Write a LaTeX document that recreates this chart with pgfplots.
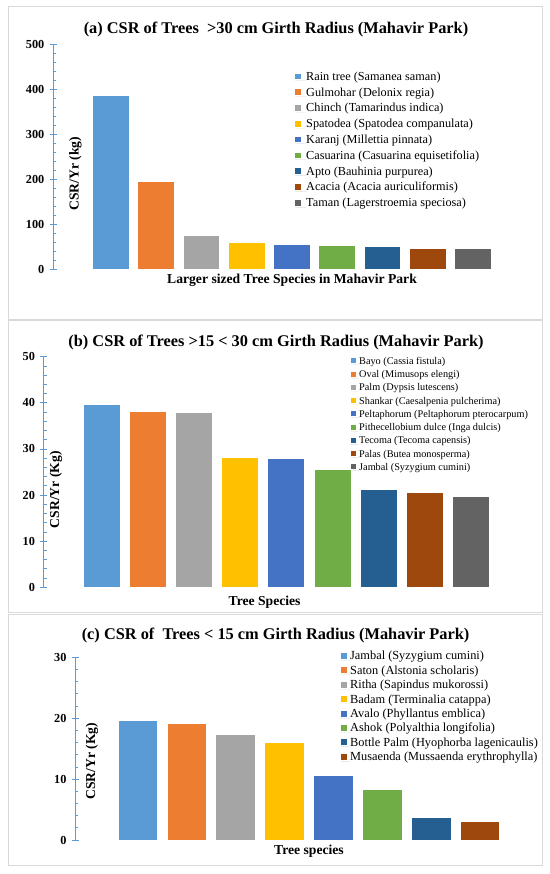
\documentclass[border=0pt]{standalone}
\usepackage{fontspec}
\setmainfont{Liberation Serif}
\usepackage{pgfplots}
\pgfplotsset{compat=1.18}

\definecolor{c1}{HTML}{5B9BD5}
\definecolor{c2}{HTML}{ED7D31}
\definecolor{c3}{HTML}{A5A5A5}
\definecolor{c4}{HTML}{FFC000}
\definecolor{c5}{HTML}{4472C4}
\definecolor{c6}{HTML}{70AD47}
\definecolor{c7}{HTML}{255E91}
\definecolor{c8}{HTML}{9E480E}
\definecolor{c9}{HTML}{636363}
\definecolor{axblue}{HTML}{5B9BD5}
\definecolor{framegray}{HTML}{D9D9D9}

\pgfplotsset{
  panel/.style={
    scale only axis,
    axis x line=none,
    axis y line*=left,
    y axis line style={draw=axblue, line width=0.9bp, -},
    every outer y axis line/.append style={-},
    ytick style={draw=axblue, line width=0.8bp},
    tick align=center,
    major tick length=7bp,
    minor tick length=3bp,
    minor tick num=4,
    every minor tick/.append style={xshift=1.5bp},
    ymin=0,
    /pgf/number format/assume math mode=true,
    yticklabel style={font=\bfseries\fontsize{12.3}{12.3}\selectfont, xshift=-2bp, text=black},
  },
  barA/.style={ybar, bar shift=0pt, bar width=35.8bp, draw=none, fill=#1,
    legend image code/.code={\path (0bp,0bp) rectangle (11.3bp,0bp); \fill[#1] (0bp,1bp) rectangle (5.6bp,6.6bp);}},
  barB/.style={ybar, bar shift=0pt, bar width=36bp, draw=none, fill=#1,
    legend image code/.code={\path (0bp,0bp) rectangle (7.8bp,0bp); \fill[#1] (0bp,0.9bp) rectangle (5bp,5.9bp);}},
  barC/.style={ybar, bar shift=0pt, bar width=38.5bp, draw=none, fill=#1,
    legend image code/.code={\path (0bp,0bp) rectangle (9bp,0bp); \fill[#1] (0bp,1bp) rectangle (6bp,7bp);}},
}

\newcommand{\titlefont}{\bfseries\fontsize{16.4}{18}\selectfont}
\newcommand{\labfont}{\bfseries\fontsize{13.7}{15}\selectfont}

\begin{document}
\begin{tikzpicture}
\path[use as bounding box, fill=white] (0,0) rectangle (550bp,874bp);
% panel frames
\draw[framegray, line width=1bp] (8.3bp,867bp) rectangle (542.5bp,554.7bp);
\draw[framegray, line width=1bp] (8.3bp,553.5bp) rectangle (542.5bp,261.3bp);
\draw[framegray, line width=1bp] (8.3bp,259.5bp) rectangle (542.5bp,8bp);

% ---------------- panel (a)
\begin{axis}[panel,
  at={(53.3bp,604.7bp)}, anchor=south west,
  width=446.8bp, height=225bp,
  xmin=-1.273, xmax=8.6, ymax=500,
  ytick={0,100,200,300,400,500},
  legend style={at={(0.5403,0.8813)}, anchor=north west, draw=none, fill=none,
    inner sep=0pt, row sep=3.8bp, column sep=0pt,
    font=\fontsize{12.3}{12.3}\selectfont, cells={anchor=base west},
    nodes={inner sep=0pt, text height=9bp, text depth=3bp}},
]
\addplot[barA=c1] coordinates {(0,385)}; \addlegendentry{Rain tree (Samanea saman)}
\addplot[barA=c2] coordinates {(1,193)}; \addlegendentry{Gulmohar (Delonix regia)}
\addplot[barA=c3] coordinates {(2,75)};  \addlegendentry{Chinch (Tamarindus indica)}
\addplot[barA=c4] coordinates {(3,58)};  \addlegendentry{Spatodea (Spatodea companulata)}
\addplot[barA=c5] coordinates {(4,55)};  \addlegendentry{Karanj (Millettia pinnata)}
\addplot[barA=c6] coordinates {(5,52)};  \addlegendentry{Casuarina (Casuarina equisetifolia)}
\addplot[barA=c7] coordinates {(6,49)};  \addlegendentry{Apto (Bauhinia purpurea)}
\addplot[barA=c8] coordinates {(7,45)};  \addlegendentry{Acacia (Acacia auriculiformis)}
\addplot[barA=c9] coordinates {(8,44)};  \addlegendentry{Taman (Lagerstroemia speciosa)}
\end{axis}

% ---------------- panel (b)
\begin{axis}[panel,
  at={(43.9bp,286.7bp)}, anchor=south west,
  width=454.4bp, height=230.6bp,
  xmin=-1.268, xmax=8.6, ymax=50,
  ytick={0,10,20,30,40,50},
  legend style={at={(0.6763,1.0004)}, anchor=north west, draw=none, fill=none,
    inner sep=0pt, row sep=3.25bp, column sep=0pt,
    font=\fontsize{10.3}{10.3}\selectfont, cells={anchor=base west},
    nodes={inner sep=0pt, text height=7.5bp, text depth=2.5bp}},
]
\addplot[barB=c1] coordinates {(0,39.6)}; \addlegendentry{Bayo (Cassia fistula)}
\addplot[barB=c2] coordinates {(1,38.0)}; \addlegendentry{Oval (Mimusops elengi)}
\addplot[barB=c3] coordinates {(2,37.7)}; \addlegendentry{Palm (Dypsis lutescens)}
\addplot[barB=c4] coordinates {(3,28.0)}; \addlegendentry{Shankar (Caesalpenia pulcherima)}
\addplot[barB=c5] coordinates {(4,27.8)}; \addlegendentry{Peltaphorum (Peltaphorum pterocarpum)}
\addplot[barB=c6] coordinates {(5,25.5)}; \addlegendentry{Pithecellobium dulce (Inga dulcis)}
\addplot[barB=c7] coordinates {(6,21.1)}; \addlegendentry{Tecoma (Tecoma capensis)}
\addplot[barB=c8] coordinates {(7,20.4)}; \addlegendentry{Palas (Butea monosperma)}
\addplot[barB=c9] coordinates {(8,19.6)}; \addlegendentry{Jambal (Syzygium cumini)}
\end{axis}

% ---------------- panel (c)
\begin{axis}[panel,
  at={(75.4bp,34bp)}, anchor=south west,
  width=434.1bp, height=182.7bp,
  xmin=-1.278, xmax=7.6, ymax=30,
  ytick={0,10,20,30},
  legend style={at={(0.6118,1.0356)}, anchor=north west, draw=none, fill=none,
    inner sep=0pt, row sep=2.4bp, column sep=0pt,
    font=\fontsize{12.4}{12.4}\selectfont, cells={anchor=base west},
    nodes={inner sep=0pt, text height=9bp, text depth=3bp}},
]
\addplot[barC=c1] coordinates {(0,19.6)}; \addlegendentry{Jambal (Syzygium cumini)}
\addplot[barC=c2] coordinates {(1,19.1)}; \addlegendentry{Saton (Alstonia scholaris)}
\addplot[barC=c3] coordinates {(2,17.3)}; \addlegendentry{Ritha (Sapindus mukorossi)}
\addplot[barC=c4] coordinates {(3,16.0)}; \addlegendentry{Badam (Terminalia catappa)}
\addplot[barC=c5] coordinates {(4,10.5)}; \addlegendentry{Avalo (Phyllantus emblica)}
\addplot[barC=c6] coordinates {(5,8.2)};  \addlegendentry{Ashok (Polyalthia longifolia)}
\addplot[barC=c7] coordinates {(6,3.6)};  \addlegendentry{Bottle Palm (Hyophorba lagenicaulis)}
\addplot[barC=c8] coordinates {(7,2.9)};  \addlegendentry{Musaenda (Mussaenda erythrophylla)}
\end{axis}

% titles
\node[anchor=base, font=\titlefont] at (276bp,840.3bp) {(a) CSR of Trees\ \ {>}30 cm Girth Radius (Mahavir Park)};
\node[anchor=base, font=\titlefont] at (276bp,527.9bp) {(b) CSR of Trees {>}15 {<} 30 cm Girth Radius (Mahavir Park)};
\node[anchor=base, font=\titlefont] at (275.6bp,234.3bp) {(c) CSR of\ \ Trees {<} 15 cm Girth Radius (Mahavir Park)};
% y labels
\node[rotate=90, font=\labfont] at (75.4bp,700.3bp) {CSR/Yr (kg)};
\node[rotate=90, font=\labfont] at (56bp,384.3bp) {CSR/Yr (Kg)};
\node[rotate=90, font=\labfont] at (92bp,112.7bp) {CSR/Yr (Kg)};
% x labels
\node[font=\labfont] at (292bp,594bp) {Larger sized Tree Species in Mahavir Park};
\node[font=\labfont] at (264.6bp,272bp) {Tree Species};
\node[font=\labfont] at (309bp,23bp) {Tree species};
\end{tikzpicture}
\end{document}
